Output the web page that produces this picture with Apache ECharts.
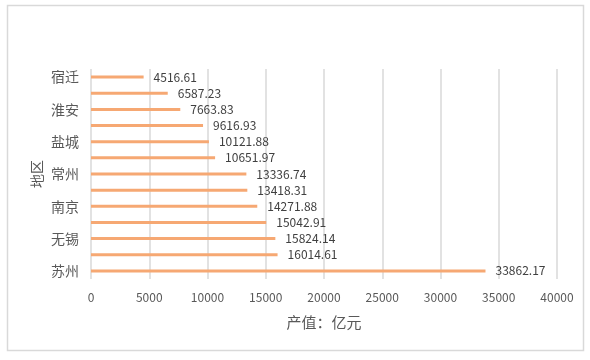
<!DOCTYPE html>
<html><head><meta charset="utf-8">
<script src="https://cdn.jsdelivr.net/npm/echarts@6/dist/echarts.min.js"></script>
<style>html,body{margin:0;padding:0;background:#fff}#c{width:590px;height:360px}</style>
</head><body><div id="c"></div>
<script>
const categories = ['苏州','南通','无锡','徐州','南京','泰州','常州','扬州','盐城','镇江','淮安','连云港','宿迁'];
const values = [33862.17,16014.61,15824.14,15042.91,14271.88,13418.31,13336.74,10651.97,10121.88,9616.93,7663.83,6587.23,4516.61];
const xTicks = [0,5000,10000,15000,20000,25000,30000,35000,40000];
const font = '"Noto Sans CJK SC", "Microsoft YaHei", sans-serif';
const chart = echarts.init(document.getElementById('c'), null, {renderer:'canvas'});
chart.setOption({
  animation:false,
  graphic:[{type:'rect',shape:{x:7.5,y:5.5,width:576,height:345},style:{fill:'none',stroke:'#d9d9d9',lineWidth:1.5}}],
  grid:{left:91,right:33,top:69,bottom:81,containLabel:false},
  xAxis:{type:'value',min:xTicks[0],max:xTicks[xTicks.length-1],interval:5000,
    name:'产值：亿元',nameLocation:'middle',nameGap:36,
    nameTextStyle:{color:'#595959',fontSize:15,fontFamily:font},
    axisLine:{show:false},
    axisTick:{show:false},
    axisLabel:{color:'#595959',fontSize:12,fontFamily:font,margin:12,formatter:v=>String(v)},
    splitLine:{show:true,lineStyle:{color:'#d9d9d9',width:1.5}}},
  yAxis:{type:'category',data:categories,
    name:'地区',nameLocation:'middle',nameGap:47,nameRotate:90,nameMoveOverlap:false,
    nameTextStyle:{color:'#595959',fontSize:14,fontFamily:font},
    axisLine:{show:false},axisTick:{show:false},
    axisLabel:{interval:1,color:'#595959',fontSize:14,fontFamily:font,margin:12}},
  series:[{type:'bar',data:values,barWidth:3,
    itemStyle:{color:'#F6A873'},
    label:{show:true,position:'right',distance:10,color:'#404040',fontSize:12,fontFamily:font,
      formatter:p=>p.value.toFixed(2)}}]
});
</script></body></html>
